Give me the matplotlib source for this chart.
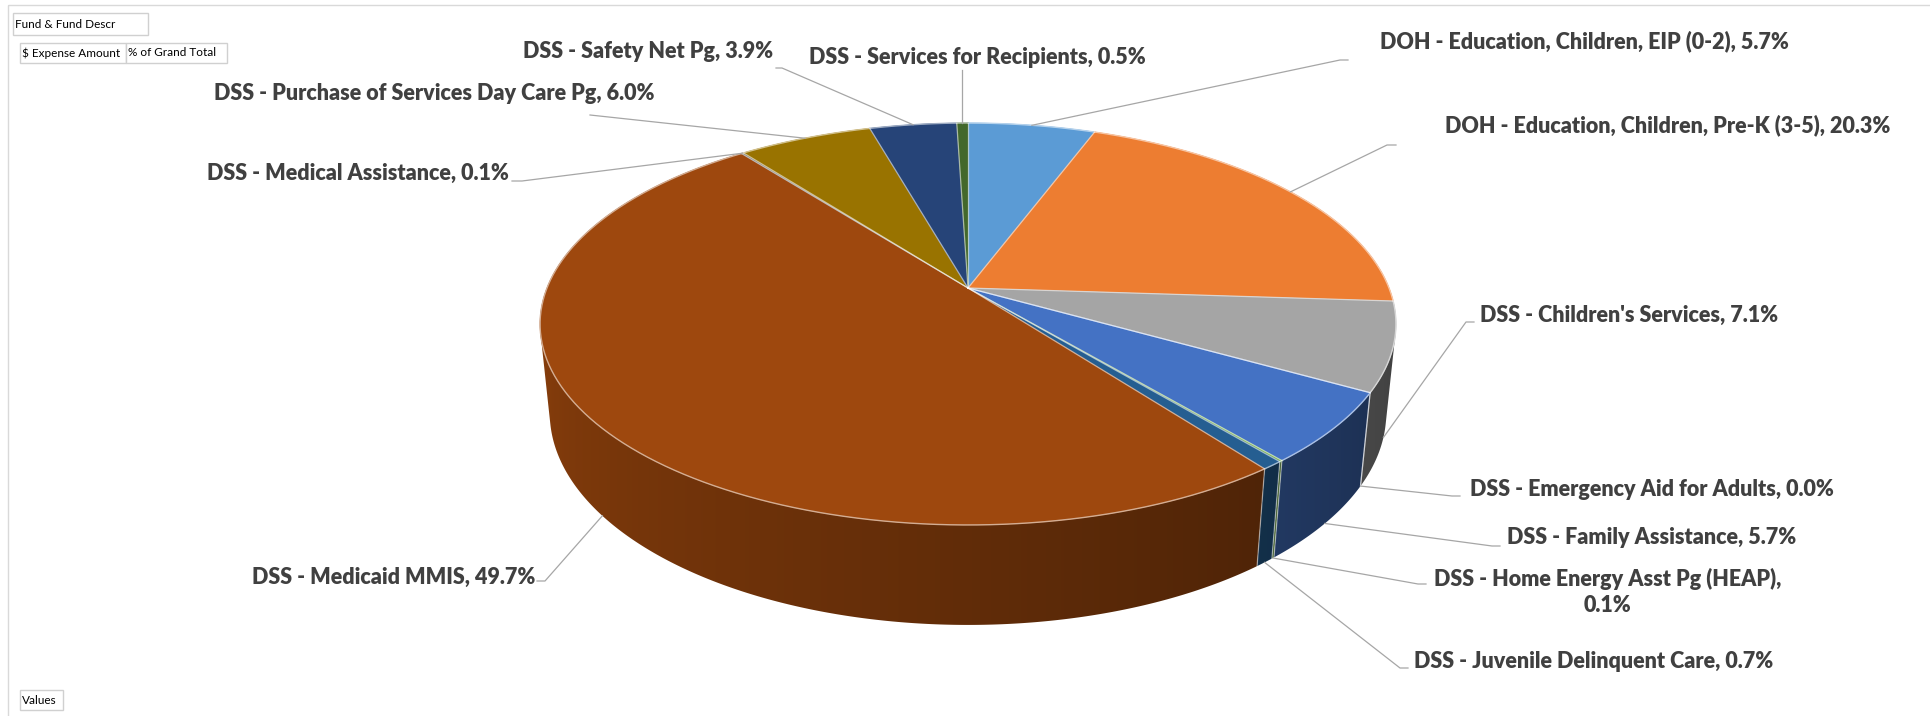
import numpy as np
import matplotlib.pyplot as plt
from matplotlib.patches import Polygon, Rectangle

# slices, clockwise from 12 o'clock
funds = [
    "DOH - Education, Children, EIP (0-2)",
    "DOH - Education, Children, Pre-K (3-5)",
    "DSS - Children's Services",
    "DSS - Emergency Aid for Adults",
    "DSS - Family Assistance",
    "DSS - Home Energy Asst Pg (HEAP)",
    "DSS - Juvenile Delinquent Care",
    "DSS - Medicaid MMIS",
    "DSS - Medical Assistance",
    "DSS - Purchase of Services Day Care Pg",
    "DSS - Safety Net Pg",
    "DSS - Services for Recipients",
]
pct_of_total = [5.7, 20.3, 7.1, 0.0, 5.7, 0.1, 0.7, 49.7, 0.1, 6.0, 3.9, 0.5]
colors = ["#5B9BD5", "#ED7D31", "#A5A5A5", "#FFC000", "#4472C4", "#70AD47",
          "#255E91", "#9E480E", "#636363", "#997300", "#264478", "#43682B"]

# label layout in pixels: text x, y, alignment, leader elbow, leader tail
label_pos = [
    (1380, 41, "left"), (1445, 125, "left"), (1480, 315, "left"),
    (1470, 489, "left"), (1507, 538, "left"), (1608, 592, "center"),
    (1414, 662, "left"), (535, 577, "right"), (509, 173, "right"),
    (655, 94, "right"), (773, 52, "right"), (809, 57, "left"),
]
leader_pts = [
    [(1340, 60), (1348, 60)], [(1387, 145), (1396, 145)],
    [(1466, 322), (1474, 322)], [(1452, 496), (1460, 496)],
    [(1492, 546), (1500, 546)], [(1418, 584), (1426, 584)],
    [(1400, 668), (1408, 668)], [(545, 581), (537, 581)],
    [(522, 181), (512, 181)], [(590, 115)],
    [(782, 68), (776, 68)], [None],
]

# projection of the 3-D disc
W, Hpx = 1931, 716
CX, CY, K = 968, 288, 421
SIN = 0.462
COS = np.sqrt(1 - SIN ** 2)
D = 4.95
THICK = 0.24


def P(t, z):
    X, Y = np.sin(t), np.cos(t)
    ys = Y * SIN + z * COS
    dep = Y * COS - z * SIN
    s = D / (D + dep)
    return CX + K * X * s, CY - K * ys * s


def rgb(c):
    return np.array([int(c[i:i + 2], 16) / 255 for i in (1, 3, 5)])


def lighten(c, f):
    v = rgb(c)
    return tuple(v + (1 - v) * f)


vals = np.array(pct_of_total)
edges = np.concatenate([[0], np.cumsum(vals / vals.sum())]) * 2 * np.pi
vis0 = np.arccos(-1 / (D * COS))
vis1 = 2 * np.pi - vis0

fig = plt.figure(figsize=(W / 100, Hpx / 100), dpi=100)
ax = fig.add_axes([0, 0, 1, 1])
ax.set_xlim(0, W)
ax.set_ylim(Hpx, 0)
ax.axis("off")

ax.add_patch(Rectangle((8, 5), W, Hpx, fill=False, ec="#D9D9D9", lw=1))

# side wall (front part only): gradient image clipped to each slice's wall
tt_all = np.linspace(vis0, vis1, 600)
x_all = np.array([P(t, 0)[0] for t in tt_all])
for i, c in enumerate(colors):
    a, b = max(edges[i], vis0), min(edges[i + 1], vis1)
    if b <= a:
        continue
    ts = np.linspace(a, b, max(4, int(np.degrees(b - a) * 2)))
    pts = [P(t, 0) for t in ts] + [P(t, -THICK) for t in ts[::-1]]
    poly = Polygon(pts, closed=True, fc="none", ec="none", zorder=2)
    ax.add_patch(poly)
    xs = np.array([p[0] for p in pts])
    ys = np.array([p[1] for p in pts])
    x0, x1 = xs.min() - 2, xs.max() + 2
    cols = np.linspace(x0, x1, max(4, int(x1 - x0) + 1))
    tcol = np.interp(cols, x_all[::-1], tt_all[::-1])
    f = 0.38 + 0.47 * (tcol - vis0) / (vis1 - vis0)
    img = (rgb(c)[None, None, :] * f[None, :, None]).clip(0, 1)
    im = ax.imshow(img, extent=(x0, x1, ys.max() + 2, ys.min() - 2),
                   aspect="auto", interpolation="bilinear", zorder=2)
    im.set_clip_path(poly)
for e in edges[1:-1]:
    if vis0 < e < vis1:
        xa, ya = P(e, 0)
        xb, yb = P(e, -THICK)
        ax.plot([xa, xb], [ya, yb], color="white", alpha=0.45, lw=0.9, zorder=3)

# top face
for i, c in enumerate(colors):
    a, b = edges[i], edges[i + 1]
    if b - a <= 0:
        continue
    ts = np.linspace(a, b, max(3, int(np.degrees(b - a) * 2)))
    rim = [P(t, 0) for t in ts]
    ax.add_patch(Polygon([(CX, CY)] + rim, closed=True, fc=c, ec=c, lw=0.5, zorder=4))
    rx, ry = zip(*rim)
    ax.plot(rx, ry, color=lighten(c, 0.55), lw=1.0, zorder=5)
for e in edges[:-1]:
    xa, ya = P(e, 0)
    ax.plot([CX, xa], [CY, ya], color="white", alpha=0.55, lw=0.9, zorder=5)

# data labels with leader lines
for i, name in enumerate(funds):
    m = (edges[i] + edges[i + 1]) / 2
    anchor = P(m, -THICK) if vis0 < m < vis1 else P(m, 0)
    pts = leader_pts[i]
    if pts[0] is None:
        pts = [(anchor[0], 70)]
    xs = [anchor[0]] + [p[0] for p in pts]
    ys = [anchor[1]] + [p[1] for p in pts]
    ax.plot(xs, ys, color="#A6A6A6", lw=0.9, zorder=6)
    x, y, ha = label_pos[i]
    txt = f"{name}, {pct_of_total[i]:.1f}%"
    if "HEAP" in name:
        txt = f"{name},\n{pct_of_total[i]:.1f}%"
    ax.text(x, y, txt, ha=ha, va="center", fontsize=15.5, fontweight="heavy",
            family="Lato", color="#404040", linespacing=1.25, zorder=7)

# pivot field buttons
buttons = [((13, 13, 135, 22), "Fund & Fund Descr"),
           ((20, 43, 106, 20), "$ Expense Amount"),
           ((126, 43, 101, 20), "% of Grand Total"),
           ((20, 690, 43, 20), "Values")]
for (bx, by, bw, bh), t in buttons:
    ax.add_patch(Rectangle((bx, by), bw, bh, fc="white", ec="#D0D0D0", lw=1, zorder=8))
    ax.text(bx + 2, by + bh / 2, t, ha="left", va="center", fontsize=8.5,
            family="Lato", color="#000000", zorder=9)

fig.savefig("out.png", dpi=100)
